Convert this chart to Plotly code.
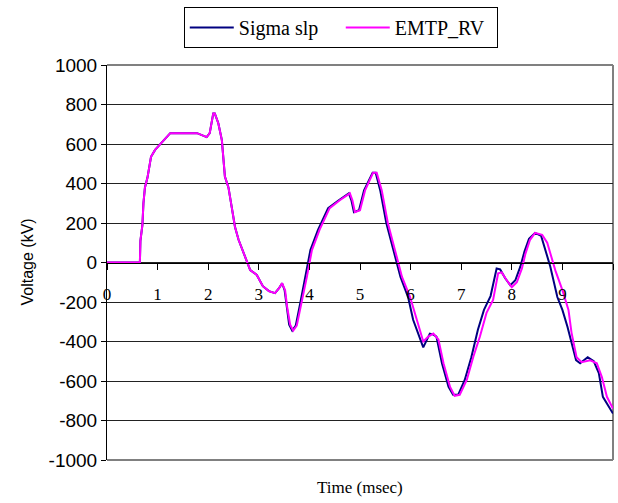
import plotly.graph_objects as go

# ---- data ----
emtp_t = [0, 0.65, 0.66, 0.70, 0.72, 0.75, 0.80, 0.87, 0.95, 1.08, 1.25, 1.78, 1.97, 2.03, 2.10, 2.13,
          2.20, 2.27, 2.30, 2.33, 2.40, 2.47, 2.53, 2.60, 2.70, 2.83, 2.96, 3.08, 3.20, 3.32, 3.40, 3.46,
          3.52, 3.56, 3.62, 3.68, 3.75, 3.85, 3.95, 4.05, 4.20, 4.40, 4.60, 4.80, 4.85, 4.90, 5.00, 5.10,
          5.26, 5.33, 5.43, 5.55, 5.69, 5.83, 5.99, 6.12, 6.25, 6.35, 6.45, 6.55, 6.65, 6.78, 6.87, 6.97,
          7.11, 7.24, 7.37, 7.50, 7.63, 7.73, 7.80, 7.90, 8.00, 8.10, 8.20, 8.27, 8.36, 8.46, 8.60, 8.70,
          8.76, 8.86, 9.00, 9.12, 9.18, 9.28, 9.38, 9.55, 9.68, 9.78, 9.88, 10.0]
emtp_v = [0, 0, 110, 190, 300, 380, 430, 535, 570, 605, 655, 655, 635, 655, 755, 755,
          705, 620, 535, 435, 380, 280, 180, 115, 45, -38, -63, -120, -145, -155, -130, -105,
          -140, -225, -315, -345, -320, -205, -73, 63, 165, 275, 315, 350, 315, 255, 265, 365,
          455, 455, 365, 200, 63, -73, -175, -290, -400, -375, -360, -390, -510, -630, -675, -670,
          -595, -477, -375, -255, -190, -55, -50, -90, -125, -100, -30, 45, 115, 150, 140, 100,
          45, -40, -140, -240, -355, -480, -505, -495, -510, -580, -680, -740]

sigma_t = [0, 0.65, 0.66, 0.70, 0.72, 0.75, 0.80, 0.87, 0.95, 1.08, 1.25, 1.78, 1.97, 2.03, 2.10, 2.13,
           2.20, 2.27, 2.30, 2.33, 2.40, 2.47, 2.53, 2.60, 2.70, 2.83, 2.96, 3.08, 3.20, 3.32, 3.40, 3.46,
           3.51, 3.55, 3.60, 3.66, 3.73, 3.82, 3.92, 4.02, 4.17, 4.37, 4.58, 4.78, 4.83, 4.88, 4.98, 5.08,
           5.25, 5.31, 5.40, 5.52, 5.66, 5.80, 5.95, 6.05, 6.25, 6.38, 6.45, 6.51, 6.62, 6.75, 6.84, 6.94,
           7.07, 7.20, 7.33, 7.45, 7.58, 7.70, 7.77, 7.87, 7.97, 8.07, 8.17, 8.25, 8.34, 8.46, 8.58, 8.66,
           8.76, 8.90, 9.00, 9.10, 9.17, 9.27, 9.35, 9.50, 9.62, 9.72, 9.80, 9.90, 10.0]
sigma_v = [0, 0, 110, 190, 300, 380, 430, 535, 570, 605, 655, 655, 635, 655, 755, 755,
           705, 620, 535, 435, 380, 280, 180, 115, 45, -38, -63, -120, -145, -155, -130, -105,
           -140, -225, -315, -345, -320, -205, -73, 63, 165, 275, 315, 350, 315, 255, 265, 365,
           455, 455, 365, 200, 63, -73, -175, -290, -430, -360, -365, -375, -510, -630, -670, -670,
           -595, -480, -340, -240, -170, -30, -35, -80, -115, -90, -20, 55, 120, 150, 135, 60,
           -20, -175, -240, -325, -400, -495, -510, -480, -500, -560, -680, -720, -765]

x_ticks = [0, 1, 2, 3, 4, 5, 6, 7, 8, 9, 10]
x_ticktext = ["0", "1", "2", "3", "4", "5", "6", "7", "8", "9", ""]
y_ticks = [-1000, -800, -600, -400, -200, 0, 200, 400, 600, 800, 1000]
y_ticktext = ["-1000", "-800", "-600", "-400", "-200", "0", "200", "400", "600", "800", "1000"]

fig = go.Figure()
fig.add_trace(go.Scatter(x=sigma_t, y=sigma_v, mode="lines", name="Sigma slp",
                         line=dict(color="#000080", width=2)))
fig.add_trace(go.Scatter(x=emtp_t, y=emtp_v, mode="lines", name="EMTP_RV",
                         line=dict(color="#FF00FF", width=2)))

serif = "Liberation Serif"
sans = "Liberation Sans"

fig.update_layout(
    width=618, height=503,
    margin=dict(l=107, r=5, t=65, b=43),
    paper_bgcolor="white", plot_bgcolor="white",
    showlegend=True,
    legend=dict(orientation="h", x=0.462, xanchor="center", y=1.147, yanchor="top",
                bordercolor="black", borderwidth=1, bgcolor="white",
                font=dict(family=serif, size=20, color="black"),
                itemwidth=44, entrywidth=97),
    xaxis=dict(range=[0, 10], tickvals=x_ticks, ticktext=x_ticktext,
               anchor="free", position=0.5, showline=True, linecolor="black", linewidth=1,
               ticks="outside", ticklen=6, tickcolor="black", showgrid=False, zeroline=False,
               tickfont=dict(family=serif, size=17, color="black"), ticklabelstandoff=10),
    yaxis=dict(range=[-1000, 1000], tickvals=y_ticks, ticktext=y_ticktext,
               showline=True, linecolor="black", linewidth=1,
               ticks="outside", ticklen=5, tickcolor="black", showgrid=True, gridcolor="#222222",
               gridwidth=1, zeroline=False,
               tickfont=dict(family=sans, size=19, color="black")),
    shapes=[
        dict(type="line", xref="paper", yref="paper", x0=0, x1=1, y0=1, y1=1,
             line=dict(color="#808080", width=2), layer="below"),
        dict(type="line", xref="paper", yref="paper", x0=1, x1=1, y0=0, y1=1,
             line=dict(color="#808080", width=2), layer="below"),
        dict(type="line", xref="paper", yref="paper", x0=0, x1=1, y0=0, y1=0,
             line=dict(color="#808080", width=2), layer="below"),
    ],
    annotations=[
        dict(text="Time (msec)", xref="paper", yref="paper", x=0.5, y=0, yanchor="top",
             xanchor="center", yshift=-16, showarrow=False,
             font=dict(family=serif, size=17, color="black")),
        dict(text="Voltage (kV)", xref="paper", yref="paper", x=0, y=0.5, xanchor="center",
             yanchor="middle", xshift=-80, textangle=-90, showarrow=False,
             font=dict(family=sans, size=16, color="black")),
    ],
)

fig.write_html("out.html", config={"displayModeBar": False},
               post_script="document.body.style.margin='0px';document.body.style.padding='0px';")
